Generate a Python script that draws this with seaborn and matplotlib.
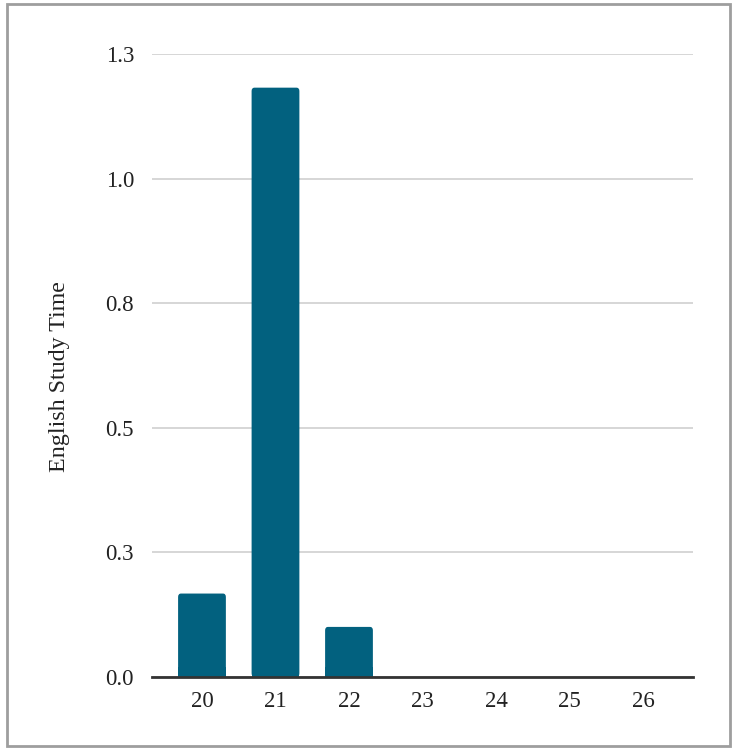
import matplotlib
matplotlib.use("Agg")
import matplotlib.pyplot as plt
import seaborn as sns
import pandas as pd
from matplotlib.patches import Rectangle, FancyBboxPatch

ages = ["20", "21", "22", "23", "24", "25", "26"]
study_time = [0.167, 1.183, 0.10, 0.0, 0.0, 0.0, 0.0]
ytick_vals = [0.0, 0.25, 0.5, 0.75, 1.0, 1.25]
ytick_labels = ["0.0", "0.3", "0.5", "0.8", "1.0", "1.3"]
bar_color = "#02617f"

sns.set_theme(style="white")
plt.rcParams["font.family"] = ["Liberation Serif", "DejaVu Serif"]

df = pd.DataFrame({"age": ages, "time": study_time})

W, H = 736, 754
fig = plt.figure(figsize=(W / 100, H / 100), dpi=100)
fig.patch.set_facecolor("white")

ax = fig.add_axes([152 / W, 1 - 676.7 / H, (693 - 152) / W, (676.7 - 54.3) / H])
sns.barplot(data=df, x="age", y="time", color=bar_color, width=0.65,
            saturation=1, ax=ax, zorder=3)

# rounded top corners
for p in list(ax.patches):
    x, y = p.get_x(), p.get_y()
    w, h = p.get_width(), p.get_height()
    if h <= 0:
        p.remove()
        continue
    p.set_visible(False)
    fb = FancyBboxPatch((x, y), w, h,
                        boxstyle="round,pad=0,rounding_size=0.04",
                        mutation_aspect=0.0135 / 0.04 * 0.5,
                        facecolor=bar_color, edgecolor="none", zorder=3)
    ax.add_patch(fb)
    ax.add_patch(Rectangle((x, y), w, min(h, 0.02), facecolor=bar_color,
                           edgecolor="none", zorder=3))

ax.set_xlim(-0.68, 6.68)
ax.set_ylim(0, 1.25)
ax.set_yticks(ytick_vals)
ax.set_yticklabels(ytick_labels)
ax.yaxis.grid(True, color="#cccccc", linewidth=1.1, zorder=0)
ax.xaxis.grid(False)
for s in ["top", "right", "left"]:
    ax.spines[s].set_visible(False)
ax.spines["bottom"].set_color("#333333")
ax.spines["bottom"].set_linewidth(2)
ax.spines["bottom"].set_zorder(4)
ax.tick_params(axis="y", length=0, pad=13, labelsize=16.5, labelcolor="#222222")
ax.tick_params(axis="x", length=0, pad=10, labelsize=16.5, labelcolor="#222222")
ax.set_xlabel("")
ax.set_ylabel("English Study Time", fontsize=17.3, color="#222222", labelpad=0)
ax.yaxis.set_label_coords((70 - 152) / (693 - 152), 0.5 + (677 - 377 - 311) / 622)
ax.set_facecolor("white")

# chart border like spreadsheet embed
fig.add_artist(Rectangle((7 / W, 1 - 746 / H), (730 - 7) / W, (746 - 4) / H,
                         transform=fig.transFigure, fill=False,
                         edgecolor="#9e9e9e", linewidth=2))

fig.savefig("out.png", dpi=100, facecolor="white")
